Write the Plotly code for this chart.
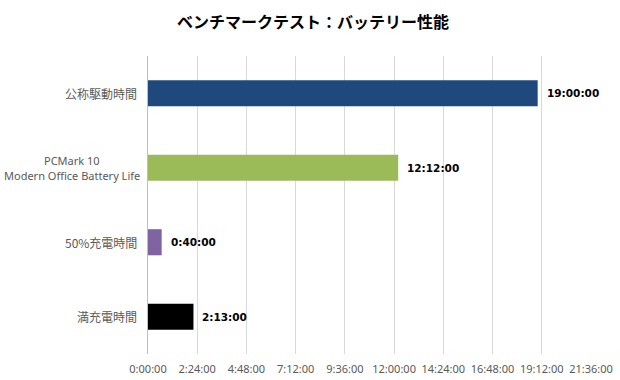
import plotly.graph_objects as go

categories = ["公称駆動時間", "PCMark 10<br>Modern Office Battery Life", "50%充電時間", "満充電時間"]
values_hms = ["19:00:00", "12:12:00", "0:40:00", "2:13:00"]
colors = ["#1F497D", "#9BBB59", "#8064A2", "#000000"]
tick_labels = ["0:00:00", "2:24:00", "4:48:00", "7:12:00", "9:36:00", "12:00:00",
               "14:24:00", "16:48:00", "19:12:00", "21:36:00"]
title = "ベンチマークテスト：バッテリー性能"


def to_minutes(s):
    h, m, sec = (int(p) for p in s.split(":"))
    return h * 60 + m + sec / 60.0


values = [to_minutes(v) for v in values_hms]
tick_vals = [to_minutes(t) for t in tick_labels]

fig = go.Figure()
fig.add_trace(go.Bar(
    y=categories, x=values, orientation="h",
    marker=dict(color=colors, line=dict(width=0)),
    width=0.35, cliponaxis=False, hoverinfo="skip",
))

for c, v, t in zip(categories, values, values_hms):
    fig.add_annotation(x=v, y=c, xref="x", yref="y", text="<b>" + t + "</b>",
                       showarrow=False, xanchor="left", xshift=7,
                       font=dict(family="DejaVu Sans", size=10.5, color="#000000"))
    lines = c.split("<br>")
    n = len(lines)
    for i, line in enumerate(lines):
        is_latin = all(ord(ch) < 128 for ch in line)
        fig.add_annotation(x=0, y=c, xref="paper", yref="y", text=line,
                           showarrow=False, xanchor="right" if n == 1 else "center",
                           xshift=-9 if n == 1 else -76, yshift=(n - 1) * 7.5 - i * 15,
                           font=dict(family="Noto Sans" if is_latin else "Noto Sans CJK JP",
                                     size=11 if is_latin else 12, color="#595959"))

fig.update_layout(
    width=620, height=380,
    margin=dict(l=148, r=29, t=56, b=26, autoexpand=False),
    paper_bgcolor="white", plot_bgcolor="white",
    showlegend=False,
    title=dict(text="<b>" + title + "</b>", x=0.505, xanchor="center", y=0.942, yanchor="middle",
               font=dict(family="Noto Sans CJK JP", size=16, color="#000000")),
    xaxis=dict(range=[0, tick_vals[-1]], tickvals=tick_vals, ticktext=tick_labels,
               showgrid=True, gridcolor="#D9D9D9", gridwidth=1, zeroline=False,
               showline=False, ticks="", fixedrange=True, automargin=False,
               ticklabelstandoff=7,
               tickfont=dict(family="Noto Sans", size=11, color="#595959")),
    yaxis=dict(categoryorder="array", categoryarray=categories, autorange="reversed",
               showticklabels=False, showgrid=False, zeroline=False, automargin=False,
               showline=True, linecolor="#BFBFBF", linewidth=1, ticks="", fixedrange=True),
)

fig.write_html("out.html", config={"displayModeBar": False},
               post_script="document.body.style.margin='0';document.body.style.overflow='hidden';")
